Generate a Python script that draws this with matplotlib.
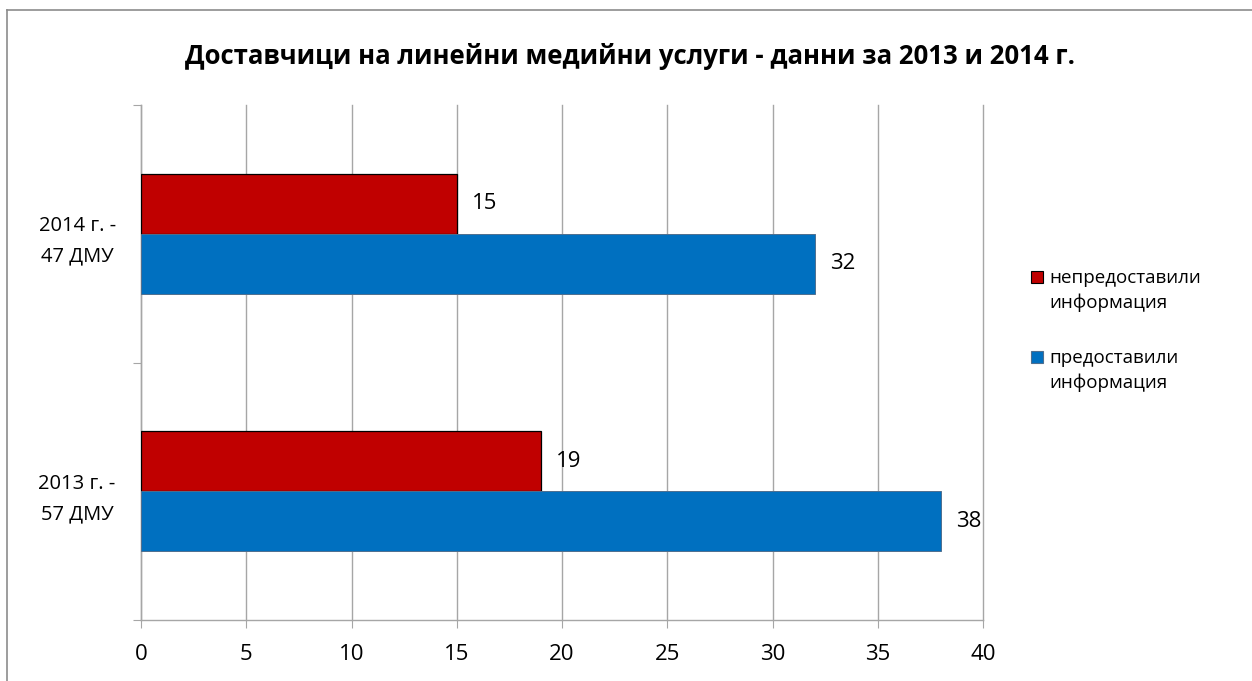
import matplotlib.pyplot as plt
from matplotlib.lines import Line2D
from matplotlib.patches import Rectangle

plt.rcParams['font.family'] = ['Open Sans', 'DejaVu Sans']

categories = ['2013 г. -\n57 ДМУ', '2014 г. -\n47 ДМУ']
not_provided = [19, 15]
provided = [38, 32]
series_names = ['непредоставили\nинформация', 'предоставили\nинформация']
xticks = [0, 5, 10, 15, 20, 25, 30, 35, 40]

red = '#C00000'
blue = '#0070C0'
grid = '#A6A6A6'
W, H = 1252, 681

fig = plt.figure(figsize=(W / 100, H / 100), dpi=100)
# chart frame (top and left edges visible)
fig.lines.append(Line2D([7 / W, 1], [1 - 9.5 / H, 1 - 9.5 / H], transform=fig.transFigure,
                        color='#8C8C8C', linewidth=1.2))
fig.lines.append(Line2D([7 / W, 7 / W], [0, 1 - 9.5 / H], transform=fig.transFigure,
                        color='#8C8C8C', linewidth=1.2))

ax = fig.add_axes([141 / W, 61 / H, 842 / W, 515 / H])

h = 0.2335
ypos = list(range(len(categories)))
ax.barh([y + h / 2 for y in ypos], not_provided, height=h, color=red,
        edgecolor='black', linewidth=0.9, zorder=3)
ax.barh([y - h / 2 for y in ypos], provided, height=h, color=blue,
        edgecolor='#4F6F8F', linewidth=0.7, zorder=3)

for y, v in zip(ypos, not_provided):
    ax.annotate(str(v), (v, y + h / 2), xytext=(11, 0), textcoords='offset points',
                va='center', ha='left', fontsize=16)
for y, v in zip(ypos, provided):
    ax.annotate(str(v), (v, y - h / 2), xytext=(11, 0), textcoords='offset points',
                va='center', ha='left', fontsize=16)

ax.set_xlim(0, 40)
ax.set_ylim(-0.5, 1.5)
ax.set_xticks(xticks)
ax.set_xticklabels([str(t) for t in xticks], fontsize=16)
ax.set_yticks([-0.5, 0.5, 1.5])
ax.set_yticklabels([])
ax.set_yticks(ypos, minor=True)
ax.set_yticklabels(categories, minor=True, fontsize=14.5, ha='center', linespacing=1.7)
ax.tick_params(axis='y', which='minor', length=0, pad=46)
ax.tick_params(axis='y', which='major', length=6, color=grid, direction='out')
ax.tick_params(axis='x', length=6, color=grid, direction='out', pad=11)
ax.xaxis.grid(True, color=grid, linewidth=1, zorder=0)
for gl in ax.get_xgridlines():
    gl.set_clip_on(False)
ax.set_axisbelow(True)
for s in ['top', 'right']:
    ax.spines[s].set_visible(False)
for s in ['left', 'bottom']:
    ax.spines[s].set_color(grid)
    ax.spines[s].set_linewidth(1)

fig.text(630 / W, 1 - 57 / H, 'Доставчици на линейни медийни услуги - данни за 2013 и 2014 г.',
         ha='center', va='center', fontsize=18.5, fontweight='bold')

# legend: square key aligned with the first text line
legend_colors = [red, blue]
legend_edges = ['black', '#4F6F8F']
legend_y = [277, 357]
for name, c, ec, yy in zip(series_names, legend_colors, legend_edges, legend_y):
    fig.patches.append(Rectangle((1031 / W, 1 - (yy + 6) / H), 12 / W, 12 / H,
                                 transform=fig.transFigure, facecolor=c,
                                 edgecolor=ec, linewidth=0.8))
    fig.text(1049 / W, 1 - (yy - 8) / H, name, ha='left', va='top',
             fontsize=13.5, linespacing=1.45)

fig.savefig('out.png', dpi=100)
